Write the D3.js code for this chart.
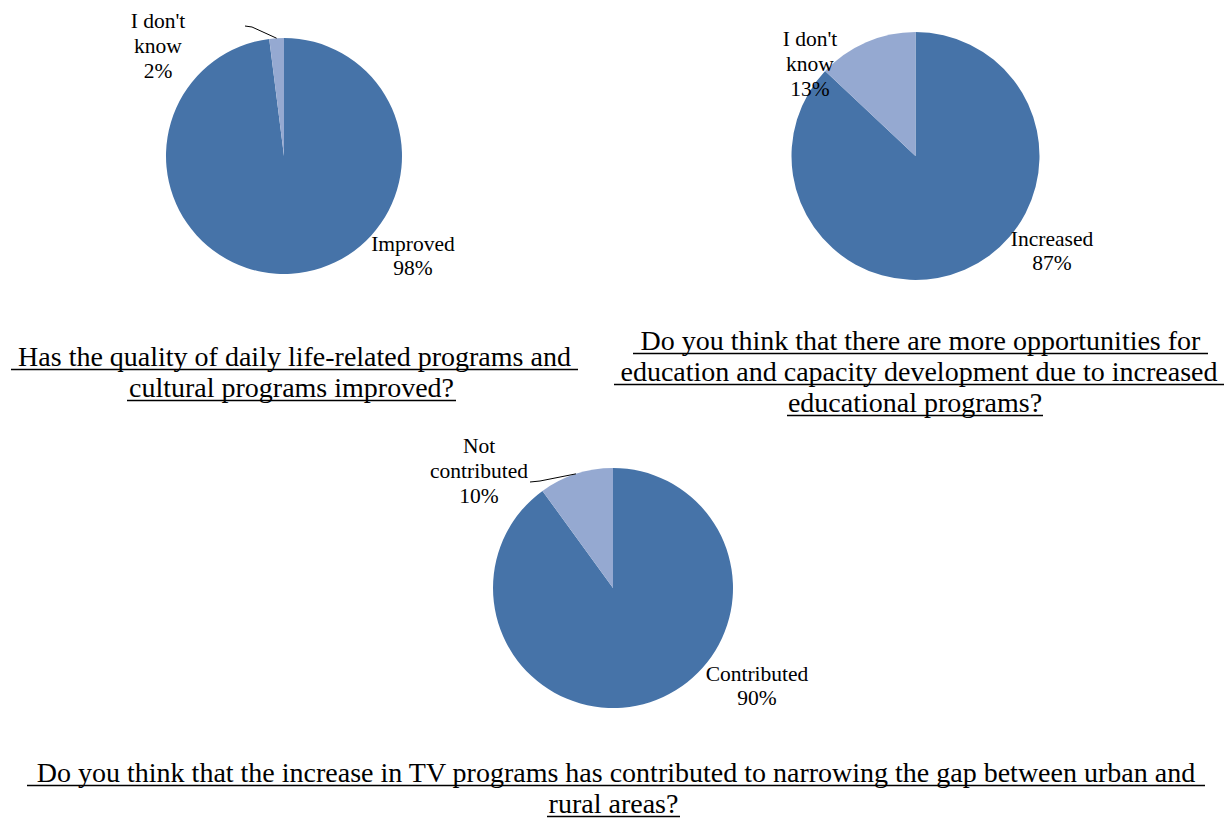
<!DOCTYPE html>
<html><head><meta charset="utf-8">
<script src="https://cdn.jsdelivr.net/npm/d3@7"></script>
</head>
<body style="margin:0;padding:0;background:#fff;">
<svg id="c" width="1232" height="819" style="display:block;font-family:'Liberation Serif'"></svg>
<script>
// ---- data ----
const pie1Categories = ["Improved", "I don't know"];
const pie1Values = [98, 2];
const pie2Categories = ["Increased", "I don't know"];
const pie2Values = [87, 13];
const pie3Categories = ["Contributed", "Not contributed"];
const pie3Values = [90, 10];
const title1Lines = ["Has the quality of daily life-related programs and ", "cultural programs improved?"];
const title2Lines = ["Do you think that there are more opportunities for ", "education and capacity development due to increased ", "educational programs?"];
const title3Lines = ["Do you think that the increase in TV programs has contributed to narrowing the gap between urban and ", "rural areas?"];

// ---- layout ----
const FONT = "Liberation Serif";
const colors = ["#4673A8", "#95A9D1"];
const charts = [
  { cats: pie1Categories, vals: pie1Values, cx: 284, cy: 156, r: 118,
    labels: [ {x: 413, y: 251, lines: ["Improved"], dy: 24},
              {x: 158, y: 28, lines: ["I don't", "know"], dy: 25, leader: [[245,26],[252,27]]} ],
    title: title1Lines, tBase: 366, tSpan: [[11,578],[127,456]] },
  { cats: pie2Categories, vals: pie2Values, cx: 915.5, cy: 156, r: 124,
    labels: [ {x: 1052, y: 246, lines: ["Increased"], dy: 24},
              {x: 810, y: 46, lines: ["I don't", "know"], dy: 25} ],
    title: title2Lines, tBase: 350, tSpan: [[633,1208],[614,1224],[787,1043]] },
  { cats: pie3Categories, vals: pie3Values, cx: 613, cy: 588, r: 120,
    labels: [ {x: 757, y: 681, lines: ["Contributed"], dy: 24},
              {x: 479, y: 453, lines: ["Not", "contributed"], dy: 25, leader: [[530,482],[540,481]]} ],
    title: title3Lines, tBase: 782, tSpan: [[27,1205],[547,680]] }
];
const labelSize = 21.5, titleSize = 28, titleLH = 31;

const svg = d3.select("#c");
const pie = d3.pie().sort(null).value(d => d);

charts.forEach(ch => {
  const g = svg.append("g").attr("transform", `translate(${ch.cx},${ch.cy})`);
  const arc = d3.arc().innerRadius(0).outerRadius(ch.r);
  const edge = d3.arc().innerRadius(ch.r).outerRadius(ch.r);
  const arcs = pie(ch.vals);
  g.selectAll("path").data(arcs).enter().append("path")
    .attr("d", arc).attr("fill", (d, i) => colors[i]);

  ch.labels.forEach((lb, i) => {
    const t = svg.append("text").attr("text-anchor", "middle")
      .style("font-family", `"${FONT}"`).attr("font-size", labelSize).attr("fill", "#000");
    const lines = lb.lines.concat([ch.vals[i] + "%"]);
    lines.forEach((s, k) => {
      t.append("tspan").attr("x", lb.x).attr("y", lb.y + k * lb.dy).text(s);
    });
    if (lb.leader) {
      const c = edge.centroid(arcs[i]);
      const pts = lb.leader.concat([[ch.cx + c[0], ch.cy + c[1]]]);
      svg.append("path").attr("d", d3.line()(pts))
        .attr("fill", "none").attr("stroke", "#000").attr("stroke-width", 1);
    }
  });

  ch.title.forEach((s, k) => {
    const [x0, x1] = ch.tSpan[k];
    const y = ch.tBase + k * titleLH;
    svg.append("text").attr("x", (x0 + x1) / 2).attr("y", y)
      .attr("text-anchor", "middle")
      .style("font-family", `"${FONT}"`).attr("font-size", titleSize).attr("fill", "#000")
      .text(s.trim());
    svg.append("line").attr("x1", x0).attr("x2", x1)
      .attr("y1", y + 3.5).attr("y2", y + 3.5)
      .attr("stroke", "#000").attr("stroke-width", 1.6);
  });
});
</script>
</body></html>
